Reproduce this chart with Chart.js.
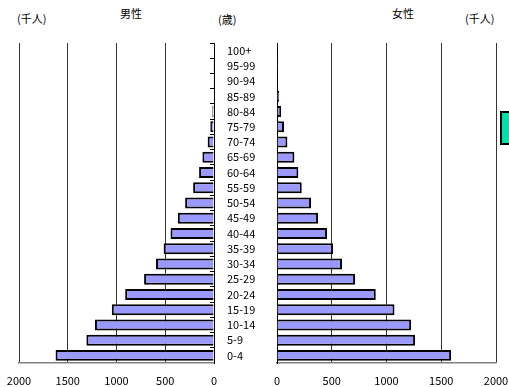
<!DOCTYPE html>
<html>
<head>
<meta charset="utf-8">
<script src="https://cdn.jsdelivr.net/npm/chart.js@4/dist/chart.umd.min.js"></script>
<style>
  html, body { margin: 0; padding: 0; background: #fff; }
  body { width: 509px; height: 387px; position: relative; overflow: hidden;
         font-family: 'Noto Sans CJK JP', sans-serif; font-size: 11px; color: #000; }
  .lbl { position: absolute; line-height: 12px; white-space: nowrap; }
  #leftWrap { position: absolute; left: 0; top: 0; width: 220px; height: 387px; }
  #rightWrap { position: absolute; left: 214px; top: 0; width: 295px; height: 387px; }
  #key { position: absolute; left: 500px; top: 111px; width: 12px; height: 30px;
         background: #00e0a8; border: 2px solid #000; }
</style>
</head>
<body>
<div class="lbl" style="left:17px; top:12px;">(千人)</div>
<div class="lbl" style="left:120px; top:7px;">男性</div>
<div class="lbl" style="left:218px; top:13px;">(歳)</div>
<div class="lbl" style="left:392px; top:7px;">女性</div>
<div class="lbl" style="left:465px; top:12px;">(千人)</div>
<div id="leftWrap"><canvas id="maleChart"></canvas></div>
<div id="rightWrap"><canvas id="femaleChart"></canvas></div>
<div id="key"></div>
<script>
// Age groups, youngest first (drawn bottom-up)
const ageGroups = ['0-4', '5-9', '10-14', '15-19', '20-24', '25-29', '30-34', '35-39',
  '40-44', '45-49', '50-54', '55-59', '60-64', '65-69', '70-74', '75-79',
  '80-84', '85-89', '90-94', '95-99', '100+'];

// Population in thousands
const malePop = [1625, 1309, 1221, 1048, 911, 717, 595, 517, 446, 371, 296,
  214, 153, 119, 65, 38, 17, 7, 2, 1, 0];
const femalePop = [1590, 1261, 1225, 1073, 902, 713, 594, 512, 457, 375, 311,
  226, 195, 159, 95, 64, 37, 20, 4, 1, 0];

// Axis ticks (thousands)
const axisMin = 0;
const axisMax = 2000;
const axisStep = 500;

Chart.defaults.font.family = "'Noto Sans CJK JP', sans-serif";
Chart.defaults.font.size = 11;
Chart.defaults.color = '#000';

const barStyle = {
  backgroundColor: '#9999ff',
  borderColor: '#000',
  borderWidth: 2,
  categoryPercentage: 1,
  barPercentage: 0.72
};

function xAxis(reverse) {
  return {
    type: 'linear',
    min: axisMin,
    max: axisMax,
    reverse: reverse,
    ticks: { stepSize: axisStep, padding: 11, maxRotation: 0, callback: v => String(v) },
    grid: { color: '#333', lineWidth: 1, drawTicks: false },
    border: { display: true, color: '#808080', width: 1.5 },
    afterFit(scale) { scale.height = 24; scale.paddingLeft = 0; scale.paddingRight = 0; }
  };
}

const common = {
  indexAxis: 'y',
  responsive: false,
  animation: false,
  plugins: { legend: { display: false }, tooltip: { enabled: false } }
};

// Male side: values grow to the left, axis line with inward ticks on the right
const maleCanvas = document.getElementById('maleChart');
maleCanvas.width = 220; maleCanvas.height = 387;
new Chart(maleCanvas, {
  type: 'bar',
  data: { labels: ageGroups, datasets: [Object.assign({ data: malePop }, barStyle)] },
  options: Object.assign({}, common, {
    layout: { padding: { left: 19, top: 43, right: 0, bottom: 0 } },
    scales: {
      x: xAxis(true),
      y: {
        position: 'right',
        reverse: true,
        ticks: { display: false },
        grid: { drawOnChartArea: false, drawTicks: true, tickLength: -4, color: '#000', offset: true },
        border: { display: true, color: '#000', width: 1 },
        afterFit(scale) { scale.width = 6; scale.paddingTop = 0; scale.paddingBottom = 0; }
      }
    }
  })
});

// Female side: age labels on the shared centre axis
const femaleCanvas = document.getElementById('femaleChart');
femaleCanvas.width = 295; femaleCanvas.height = 387;
new Chart(femaleCanvas, {
  type: 'bar',
  data: { labels: ageGroups, datasets: [Object.assign({ data: femalePop }, barStyle)] },
  options: Object.assign({}, common, {
    layout: { padding: { left: 13, top: 43, right: 13, bottom: 0 } },
    scales: {
      x: xAxis(false),
      y: {
        position: 'left',
        reverse: true,
        ticks: { crossAlign: 'far', padding: 0, autoSkip: false },
        grid: { drawOnChartArea: false, drawTicks: false },
        border: { display: true, color: '#000', width: 1 },
        afterFit(scale) { scale.width = 50; }
      }
    }
  })
});
</script>
</body>
</html>
